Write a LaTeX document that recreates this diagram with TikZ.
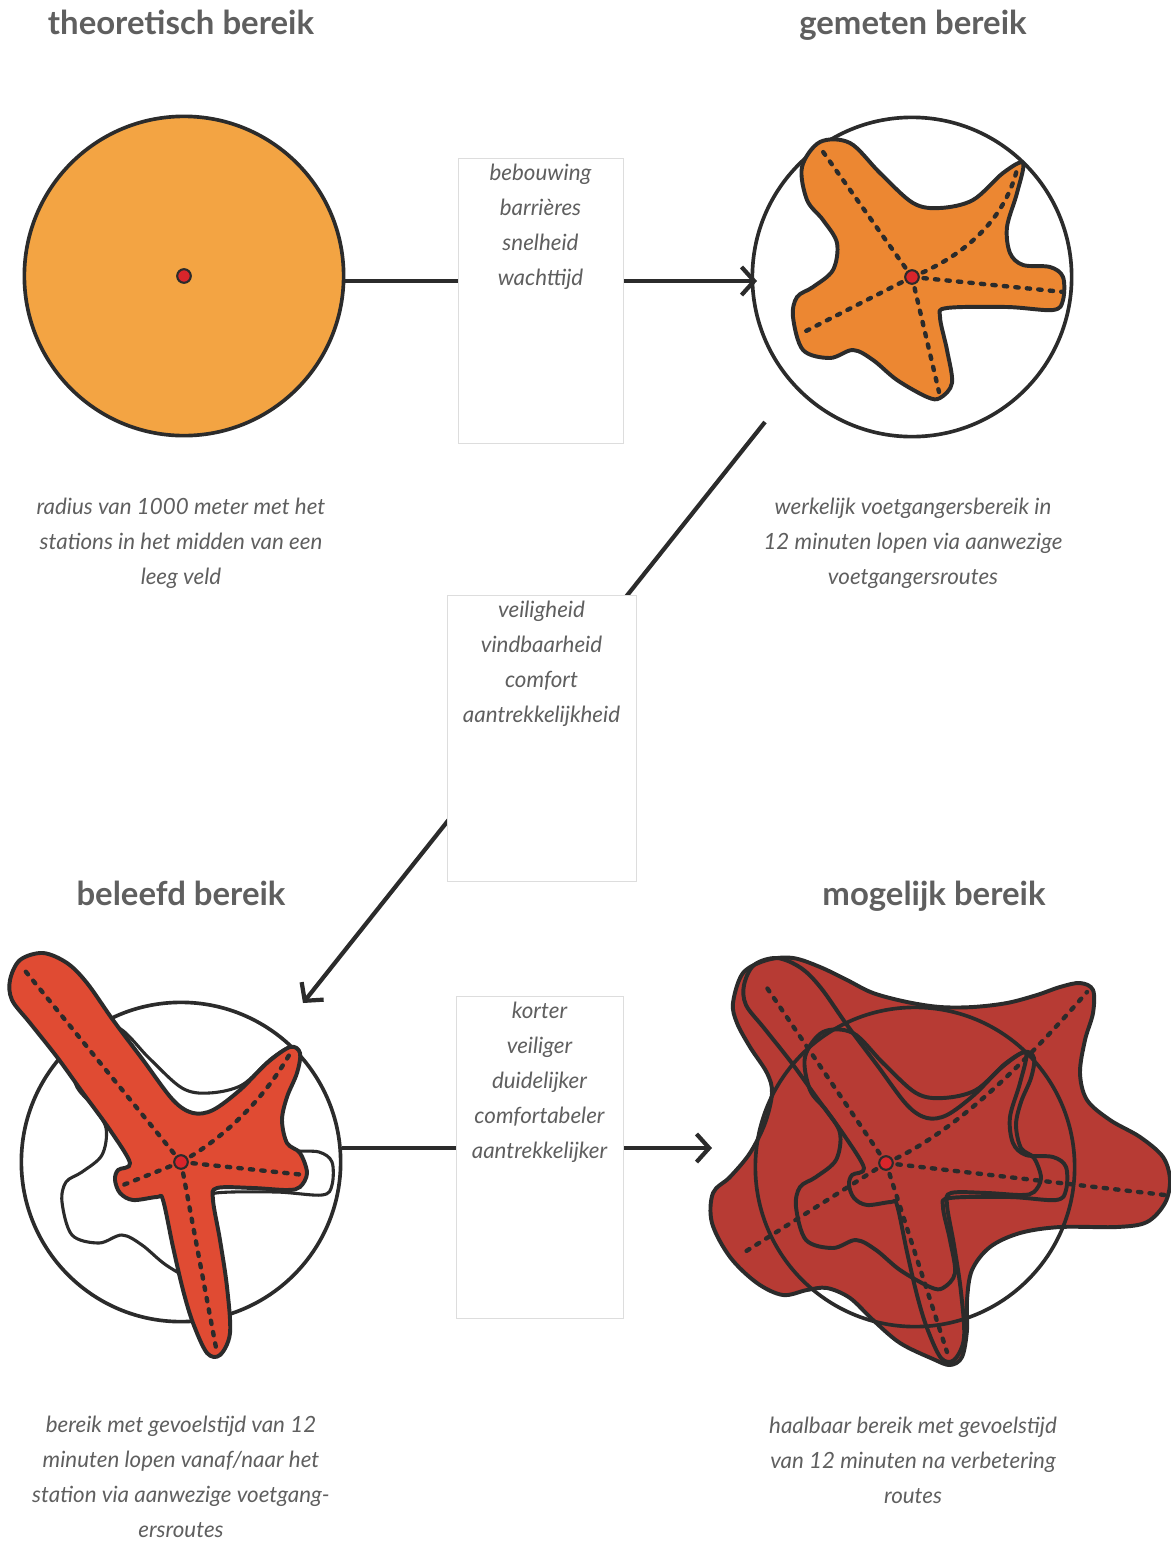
\documentclass[tikz,border=0pt]{standalone}
\usepackage{fontspec}
\setmainfont{Lato}
\usetikzlibrary{positioning}
\usetikzlibrary{calc}
\usetikzlibrary{arrows.meta}
\definecolor{oranjelicht}{HTML}{F3A443}
\definecolor{oranje}{HTML}{EC8732}
\definecolor{rood}{HTML}{E04B33}
\definecolor{donkerrood}{HTML}{B73B34}
\definecolor{stip}{HTML}{D9252B}
\definecolor{inkt}{HTML}{2B2B2B}
\definecolor{grijs}{HTML}{5F5F5F}
\definecolor{kaderlijn}{HTML}{DDDDDD}
\newcommand{\gemetenvorm}{plot[smooth cycle, tension=0.55] coordinates {(-110,-110) (-92,-135) (-62,-134) (-32,-104) (1,-74) (28,-69) (61,-77) (91,-104) (111,-114) (105,-84) (95,-50) (98,-24) (111,-12) (138,-10) (151,0) (151,23) (141,33) (95,30) (35,31) (28,40) (35,73) (40,106) (28,121) (15,120) (-15,103) (-39,83) (-59,73) (-82,81) (-109,73) (-119,40) (-115,20) (-99,10) (-79,-7) (-75,-34) (-89,-57) (-105,-77)}}
\newcommand{\beleefdvorm}{plot[smooth cycle, tension=0.55] coordinates {(-171,-182) (-161,-202) (-138,-209) (-114,-199) (-94,-179) (-68,-142) (-38,-102) (-8,-62) (12,-49) (32,-52) (59,-72) (86,-99) (109,-115) (119,-109) (116,-89) (106,-65) (101,-42) (106,-19) (119,-9) (126,11) (119,25) (106,28) (72,26) (36,26) (32,38) (39,78) (46,125) (49,171) (39,193) (26,191) (12,161) (2,128) (-8,85) (-18,38) (-24,35) (-48,38) (-61,31) (-66,18) (-63,8) (-51,1) (-71,-32) (-98,-69) (-124,-105) (-151,-139) (-169,-162)}}
\newcommand{\mogelijkvorm}{plot[smooth cycle, tension=0.55] coordinates {(-182,-164) (-172,-194) (-148,-207) (-122,-209) (-95,-200) (-68,-187) (-42,-174) (-8,-165) (25,-160) (58,-160) (92,-164) (122,-172) (145,-180) (165,-184) (178,-177) (178,-154) (170,-127) (165,-94) (172,-67) (195,-47) (225,-30) (248,-10) (255,13) (250,36) (232,55) (202,60) (145,60) (105,66) (75,80) (57,103) (52,133) (52,163) (47,190) (35,198) (18,192) (-15,176) (-42,153) (-65,131) (-88,121) (-108,123) (-132,128) (-158,116) (-185,90) (-203,56) (-202,26) (-185,10) (-165,-14) (-150,-44) (-143,-74) (-148,-94) (-165,-120) (-178,-144)}}

\begin{document}
\begin{tikzpicture}[x=0.025cm, y=-0.025cm,
    every node/.style={text=grijs},
    cirkel/.style={circle, draw=inkt, line width=2.6pt, minimum size=7.98cm, inner sep=0pt},
    vorm/.style={draw=inkt, line width=2.8pt, line join=round},
    stippel/.style={draw=inkt, line width=3.1pt, line cap=round, dash pattern=on 2.4pt off 5.8pt},
    stipje/.style={fill=stip, draw=inkt, line width=1.5pt},
    verbinding/.style={draw=inkt, line width=3pt},
    pijl/.style={verbinding, -{Straight Barb[length=9pt, width=20pt]}},
    kader/.style={draw=kaderlijn, line width=0.6pt, fill=white, inner sep=0pt},
    factoren/.style={font=\itshape\fontsize{15.9}{24.9}\selectfont, align=center, anchor=north},
    titel/.style={font=\bfseries\fontsize{23.4}{28}\selectfont, text height=0.75em, text depth=0.25em},
    uitleg/.style={font=\itshape\fontsize{15.9}{24.9}\selectfont, align=center}]

\useasboundingbox (0,0) rectangle (1171,1541);

\node[titel] (t1) at (181,31) {theoretisch bereik};
\node[titel] (t2) at (913,31) {gemeten bereik};
\node[titel] (t3) at (181,902) {beleefd bereik};
\node[titel] (t4) at (934,902) {mogelijk bereik};

% theoretisch
\node[cirkel, fill=oranjelicht] (theoretisch) at (184,276) {};
\draw[stipje] (theoretisch.center) circle[radius=0.17cm];

% gemeten
\node[cirkel] (gemeten) at (912,277) {};
\begin{scope}[shift={(gemeten.center)}]
  \draw[vorm, fill=oranje] \gemetenvorm;
  \foreach \x/\y in {-91/-128, 152/15, 27/115, -106/54}
    \draw[stippel] (0,0) -- (\x,\y);
  \draw[stippel] (0,0) .. controls (55,-22) and (95,-60) .. (106,-112);
  \draw[stipje] (0,0) circle[radius=0.17cm];
\end{scope}

% beleefd
\node[cirkel] (beleefd) at (181,1162) {};
\begin{scope}[shift={(beleefd.center)}]
  \draw[vorm, line width=2.2pt, fill=white] \gemetenvorm;
  \draw[vorm, fill=rood] \beleefdvorm;
  \foreach \x/\y in {-159/-195, 124/13, 36/191, -63/25}
    \draw[stippel] (0,0) -- (\x,\y);
  \draw[stippel] (0,0) .. controls (45,-25) and (85,-65) .. (111,-112);
  \draw[stipje] (0,0) circle[radius=0.17cm];
\end{scope}

% mogelijk
\coordinate (mc) at (915,1167);
\draw[vorm, fill=donkerrood, shift={(mc)}] \mogelijkvorm;
\node[cirkel] (mogelijk) at (mc) {};
\begin{scope}[shift={(mogelijk.center)}]
  \draw[vorm] \gemetenvorm;
  \draw[vorm] \beleefdvorm;
  \begin{scope}[shift={(-29,-4)}]
    \foreach \x/\y in {-123/-181, 279/32, 61/189, -146/92}
      \draw[stippel] (0,0) -- (\x,\y);
    \draw[stippel] (0,0) .. controls (65,-28) and (135,-95) .. (201,-171);
    \draw[stipje] (0,0) circle[radius=0.17cm];
  \end{scope}
\end{scope}

% verbindingen
\coordinate (p1) at (757,281);
\coordinate (d1) at (765,422);
\coordinate (d2) at (303,1003);
\coordinate (p3) at (712,1148);
\draw[pijl] (theoretisch.east |- p1) -- (p1);
\draw[pijl] (d1) -- (d2);
\draw[pijl] (beleefd.east |- p3) -- (p3);

\foreach \n/\x/\y/\b/\h/\t in {
    1/540.5/300.5/4.125/7.125/{bebouwing\\barrières\\snelheid\\wachttijd},
    2/541.5/738/4.725/7.15/{veiligheid\\vindbaarheid\\comfort\\aantrekkelijkheid},
    3/539.5/1157/4.175/8.05/{korter\\veiliger\\duidelijker\\comfortabeler\\aantrekkelijker}} {
  \node[kader, minimum width=\b cm, minimum height=\h cm] (b\n) at (\x,\y) {};
  \node[factoren, below=1pt of b\n.north] (f\n) {\t};
}

\node[uitleg] (u1) at (181,543) {radius van 1000 meter met het\\stations in het midden van een\\leeg veld};
\node[uitleg] (u2) at (913,543) {werkelijk voetgangersbereik in\\12 minuten lopen via aanwezige\\voetgangersroutes};
\node[uitleg] (u3) at (181,1477) {bereik met gevoelstijd van 12\\minuten lopen vanaf/naar het\\station via aanwezige voetgang-\\ersroutes};
\node[uitleg] (u4) at (913,1460) {haalbaar bereik met gevoelstijd\\van 12 minuten na verbetering\\routes};
\end{tikzpicture}
\end{document}
